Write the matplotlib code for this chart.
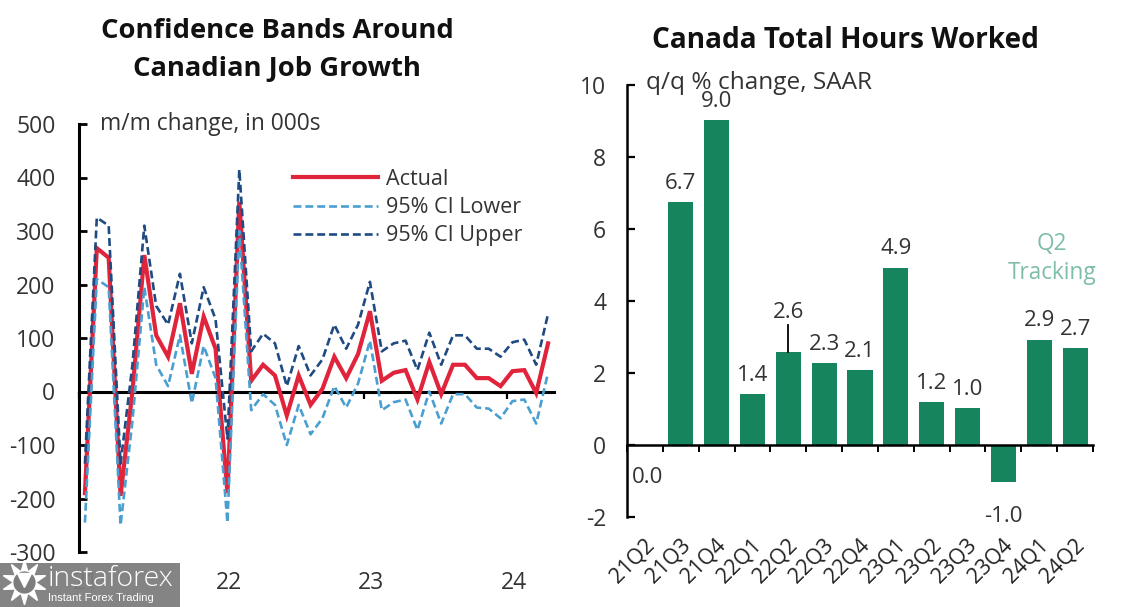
import matplotlib
matplotlib.use("Agg")
import matplotlib.pyplot as plt
from matplotlib.patches import Rectangle
from matplotlib.lines import Line2D

plt.rcParams['font.family'] = ['Open Sans', 'DejaVu Sans']
plt.rcParams['axes.unicode_minus'] = False

W, H = 1122, 607
actual = [-190, 268, 250, -195, 0, 255, 105, 65, 165, 33, 140, 80, -190, 355, 20, 50, 30, -45, 30, -25,
          5, 65, 25, 70, 150, 20, 35, 40, -15, 55, -5, 50, 50, 25, 25, 10, 38, 40, -3, 90]
ci_lower = [-245, 210, 195, -250, -55, 195, 50, 10, 105, -22, 85, 25, -245, 300, -35, -5, -25, -100, -25, -80,
            -50, 10, -30, 15, 95, -35, -20, -15, -72, 0, -60, -5, -5, -30, -32, -50, -18, -15, -60, 35]
ci_upper = [-135, 325, 310, -135, 50, 310, 160, 125, 220, 90, 195, 135, -88, 415, 75, 108, 90, 10, 85, 30,
            60, 125, 80, 125, 205, 75, 90, 95, 40, 110, 50, 105, 105, 80, 80, 65, 92, 97, 50, 145]
year_labels = ['21', '22', '23', '24']
left_yticks = [-300, -200, -100, 0, 100, 200, 300, 400, 500]

quarters = ['21Q2', '21Q3', '21Q4', '22Q1', '22Q2', '22Q3', '22Q4', '23Q1', '23Q2', '23Q3', '23Q4', '24Q1', '24Q2']
hours = [0.0, 6.75, 9.03, 1.42, 2.57, 2.28, 2.08, 4.93, 1.2, 1.03, -1.03, 2.93, 2.7]
hour_labels = ['0.0', '6.7', '9.0', '1.4', '2.6', '2.3', '2.1', '4.9', '1.2', '1.0', '-1.0', '2.9', '2.7']
right_yticks = [-2, 0, 2, 4, 6, 8, 10]

INK = '#333333'
fig = plt.figure(figsize=(W / 100, H / 100), dpi=100, facecolor='white')

def axes_px(x0, x1, ytop, ybot):
    return fig.add_axes([x0 / W, 1 - ybot / H, (x1 - x0) / W, (ybot - ytop) / H])

def txt(x, y, s, **kw):
    kw.setdefault('color', INK)
    kw.setdefault('va', 'center')
    return fig.text(x / W, 1 - y / H, s, **kw)

# ---------- left panel
ax = axes_px(79, 554, 124, 552)
x = list(range(len(actual)))
ax.plot(x, actual, color='#E0243C', lw=3.0, label='Actual', solid_joinstyle='miter', zorder=3)
ax.plot(x, ci_lower, color='#4A9FD1', lw=1.9, ls=(0, (3.0, 1.5)), label='95% CI Lower', zorder=4)
ax.plot(x, ci_upper, color='#1F4A82', lw=1.9, ls=(0, (3.0, 1.5)), label='95% CI Upper', zorder=5)
ax.set_xlim(-0.5, 39.5)
ax.set_ylim(-300, 500)
for s in ['top', 'right']:
    ax.spines[s].set_visible(False)
ax.spines['bottom'].set_position(('data', 0))
ax.spines['left'].set_linewidth(2.2)
ax.spines['bottom'].set_linewidth(2.2)
ax.set_yticks(left_yticks)
ax.tick_params(axis='y', direction='in', length=5.5, width=2, labelsize=16.5, pad=17, labelcolor=INK)
ax.set_xticks([-0.5, 11.5, 23.5, 35.5])
ax.tick_params(axis='x', which='major', direction='out', length=5, width=1.6, labelbottom=False)
for i, lab in enumerate(year_labels):
    ax.annotate(lab, xy=(i * 12 + 0.1, 0), xycoords=('data', 'axes fraction'), xytext=(0, -31 * 0.72),
                textcoords='offset points', ha='center', va='center', fontsize=16.5, color=INK,
                annotation_clip=False)
leg = ax.legend(loc='upper left', bbox_to_anchor=((293 - 79) / 475, 1 - (169 - 124) / 428), frameon=False,
                fontsize=15.5, handlelength=3.95, handletextpad=0.37, labelspacing=0.33, labelcolor=INK,
                borderpad=0, borderaxespad=0)
txt(100, 124, 'm/m change, in 000s', fontsize=16.4, ha='left')
txt(277, 31, 'Confidence Bands Around', fontsize=19.7, fontweight='bold', ha='center', color='#111111')
txt(277, 69, 'Canadian Job Growth', fontsize=19.7, fontweight='bold', ha='center', color='#111111')

# ---------- right panel
ar = axes_px(627, 1093, 85, 517)
xr = list(range(len(hours)))
ar.bar(xr, hours, width=0.7, color='#16855E', zorder=2)
ar.set_xlim(-0.5, 12.5)
ar.set_ylim(-2, 10)
for s in ['top', 'right']:
    ar.spines[s].set_visible(False)
ar.spines['bottom'].set_position(('data', 0))
ar.spines['left'].set_linewidth(1.8)
ar.spines['bottom'].set_linewidth(1.8)
ar.spines['bottom'].set_zorder(5)
ar.set_yticks(right_yticks)
ar.tick_params(axis='y', direction='in', length=5.5, width=1.6, labelsize=16.5, pad=15, labelcolor=INK)
ar.set_xticks([v - 0.5 for v in range(len(hours) + 1)])
ar.tick_params(axis='x', which='major', direction='out', length=5, width=1.4, labelbottom=False)
for i, lab in enumerate(quarters):
    ar.annotate(lab, xy=(i, -2), xycoords='data', xytext=(-1, -13), textcoords='offset points',
                ha='right', va='top', rotation=45, rotation_mode='anchor', fontsize=15.5, color='#222222',
                annotation_clip=False)
for i, (v, lab) in enumerate(zip(hours, hour_labels)):
    if i == 0:
        ar.text(i + 0.08, -0.89, lab, ha='center', va='center', fontsize=16, color=INK)
    elif v < 0:
        ar.text(i, v - 0.97, lab, ha='center', va='center', fontsize=16, color=INK)
    elif i == 4:
        ar.text(i, v + 1.12, lab, ha='center', va='center', fontsize=16, color=INK)
    else:
        ar.text(i, v + 0.52, lab, ha='center', va='center', fontsize=16, color=INK)
ar.plot([4, 4], [hours[4], hours[4] + 0.75], color='black', lw=1.3, zorder=3)
txt(646, 83, 'q/q % change, SAAR', fontsize=17.6, ha='left')
txt(845, 41, 'Canada Total Hours Worked', fontsize=20.2, fontweight='bold', ha='center', color='#111111')
txt(1052, 244, 'Q2', fontsize=16.3, ha='center', color='#7FBEA6')
txt(1052, 273, 'Tracking', fontsize=16.3, ha='center', color='#7FBEA6')

# ---------- watermark
fig.add_artist(Rectangle((0, 0), 180 / W, 44 / H, transform=fig.transFigure, facecolor='#7d7d7d',
                         alpha=0.95, edgecolor='none', zorder=10))
fig.add_artist(Line2D([24 / W], [1 - 582 / H], marker=(10, 1, 0), ms=32, color='white', lw=0,
                      transform=fig.transFigure, zorder=11))
fig.add_artist(Line2D([24 / W], [1 - 582 / H], marker='o', ms=15, color='#7d7d7d', lw=0,
                      transform=fig.transFigure, zorder=12))
fig.add_artist(Line2D([24 / W], [1 - 580 / H], marker='v', ms=10, color='white', lw=0,
                      transform=fig.transFigure, zorder=13))
txt(48, 579, 'instaforex', fontsize=20.5, ha='left', color='white', zorder=11, fontweight='light')
txt(48, 598, 'Instant Forex Trading', fontsize=8, ha='left', color='white', zorder=11, family='Liberation Sans')

fig.savefig('out.png', dpi=100)
